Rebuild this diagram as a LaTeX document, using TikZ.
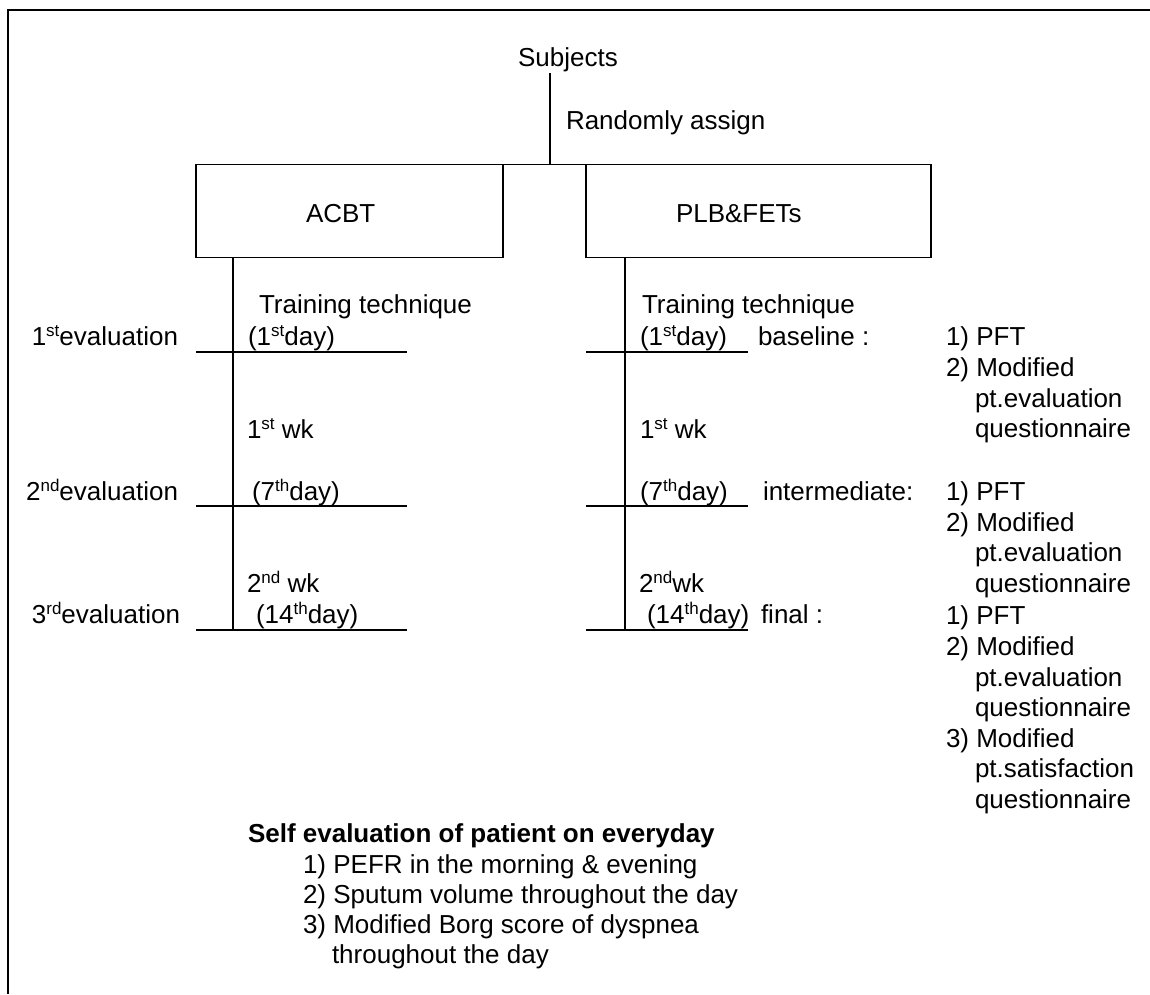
\documentclass[tikz,border=0pt]{standalone}
\usepackage{fontspec}
\setmainfont{Liberation Sans}
\newcommand\supx[1]{\raisebox{8.5pt}{\fontsize{17}{17}\selectfont #1}}
\begin{document}
\begin{tikzpicture}[x=1pt,y=-1pt,
  every node/.style={inner sep=0pt, outer sep=0pt, font=\fontsize{26}{30}\selectfont},
  txt/.style={anchor=base west},
  txtr/.style={anchor=base east},
  ln/.style={line width=1.7pt},
  frame/.style={line width=2pt},
  boxst/.style={draw, line width=1.7pt, rectangle, minimum height=93pt}]
\useasboundingbox (0,0) rectangle (1150,994);
% frame
\coordinate (fbl) at (7.5,994);
\coordinate (ftl) at (7.5,9.5);
\coordinate (ftr) at (1150,9.5);
\draw[frame] (fbl) -- (ftl) -- (ftr);
% top
\node[anchor=base] (subj) at (568,66) {Subjects};
\node[txt] (rand) at (566,129) {Randomly assign};
\coordinate (s0) at (550,73);
\coordinate (s1) at (550,164.5);
\draw[ln] (s0) -- (s1);
% boxes
\node[boxst, minimum width=307pt] (acbt) at (349.5,211) {};
\node[boxst, minimum width=345pt] (plb) at (758.5,211) {};
\node[txt] (acbtt) at (306,222) {ACBT};
\node[txt] (plbt) at (676,222) {PLB\&FETs};
\draw[ln] (acbt.north east) -- (plb.north west);
% timelines
\coordinate (lt0) at (233,257.5);
\coordinate (lt1) at (233,630);
\coordinate (rt0) at (625,257.5);
\coordinate (rt1) at (625,630);
\draw[ln] (lt0) -- (lt1);
\draw[ln] (rt0) -- (rt1);
\foreach \y/\n in {352/a,506/b,630/c}{
  \coordinate (l\n0) at (196,\y);
  \coordinate (l\n1) at (407,\y);
  \coordinate (r\n0) at (586,\y);
  \coordinate (r\n1) at (748,\y);
  \draw[ln] (l\n0) -- (l\n1);
  \draw[ln] (r\n0) -- (r\n1);
}
% left texts
\node[txtr] (ev1) at (178,345) {1\supx{st}evaluation};
\node[txtr] (ev2) at (178,500) {2\supx{nd}evaluation};
\node[txtr] (ev3) at (180,623) {3\supx{rd}evaluation};
\node[txt] (ltt) at (259,313) {Training technique};
\node[txt] (ld1) at (248,345) {(1\supx{st}day)};
\node[txt] (lw1) at (247,438) {1\supx{st} wk};
\node[txt] (ld7) at (252,500) {(7\supx{th}day)};
\node[txt] (lw2) at (247,592) {2\supx{nd} wk};
\node[txt] (ld14) at (256,623) {(14\supx{th}day)};
% right texts
\node[txt] (rtt) at (642,313) {Training technique};
\node[txt] (rd1) at (640,345) {(1\supx{st}day)};
\node[txt] (rw1) at (640,438) {1\supx{st} wk};
\node[txt] (rd7) at (640,500) {(7\supx{th}day)};
\node[txt] (rw2) at (639,592) {2\supx{nd}wk};
\node[txt] (rd14) at (647,623) {(14\supx{th}day)};
\node[txt] (base) at (758,345) {baseline :};
\node[txt] (inter) at (763,500) {intermediate:};
\node[txt] (fin) at (761,623) {final :};
% lists
\node[txt] (b1) at (946,345) {1) PFT};
\node[txt] (b2) at (946,376) {2) Modified};
\node[txt] (b3) at (975,407) {pt.evaluation};
\node[txt] (b4) at (975,437) {questionnaire};
\node[txt] (i1) at (946,500) {1) PFT};
\node[txt] (i2) at (946,531) {2) Modified};
\node[txt] (i3) at (975,561) {pt.evaluation};
\node[txt] (i4) at (975,592) {questionnaire};
\node[txt] (f1) at (946,624) {1) PFT};
\node[txt] (f2) at (946,655) {2) Modified};
\node[txt] (f3) at (975,686) {pt.evaluation};
\node[txt] (f4) at (975,716) {questionnaire};
\node[txt] (f5) at (946,747) {3) Modified};
\node[txt] (f6) at (975,777) {pt.satisfaction};
\node[txt] (f7) at (975,808) {questionnaire};
% bottom
\node[txt, font=\fontsize{26}{30}\selectfont\bfseries] (self) at (248,842) {Self evaluation of patient on everyday};
\node[txt] (s1) at (303,873) {1) PEFR in the morning \& evening};
\node[txt] (s2) at (303,903) {2) Sputum volume throughout the day};
\node[txt] (s3) at (303,933) {3) Modified Borg score of dyspnea};
\node[txt] (s4) at (332,963) {throughout the day};
\end{tikzpicture}
\end{document}
